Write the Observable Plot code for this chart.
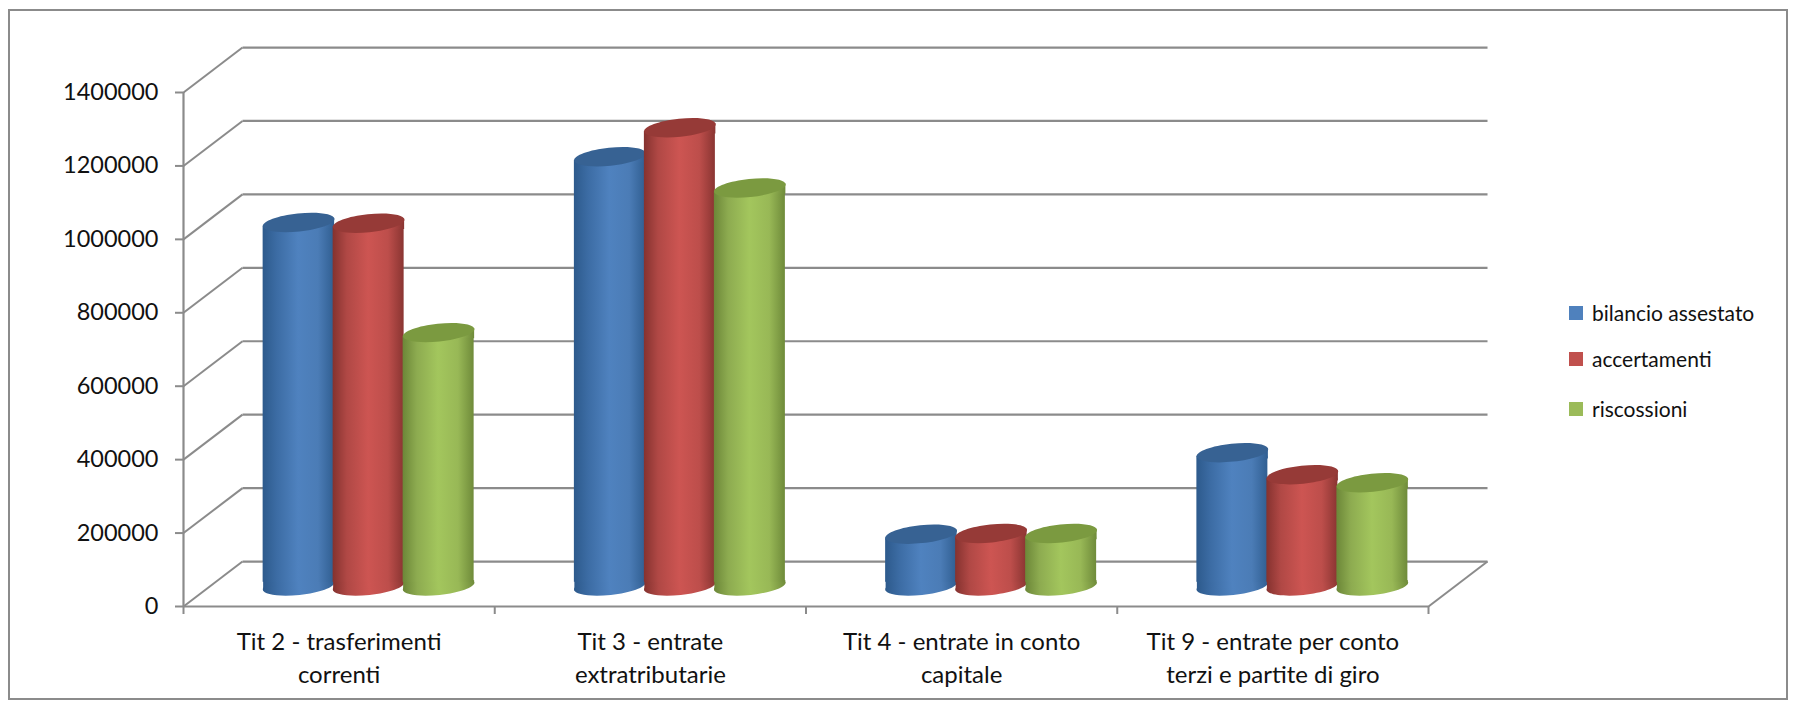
<!DOCTYPE html>
<html>
<head>
<meta charset="utf-8">
<script src="https://cdn.jsdelivr.net/npm/d3@7"></script>
<script src="https://cdn.jsdelivr.net/npm/@observablehq/plot@0.6"></script>
<style>
  html, body { margin: 0; padding: 0; background: #fff; }
  body { width: 1794px; height: 705px; position: relative; overflow: hidden; font-family: Lato, sans-serif; }
  #frame { position: absolute; left: 8px; top: 9px; width: 1776px; height: 687px; border: 2px solid #8b8b8b; box-sizing: content-box; }
  #chart { position: absolute; left: 0; top: 0; }
  #legend { position: absolute; left: 1569px; top: 0; color: #111; font-size: 21px; }
  #legend div { position: absolute; white-space: nowrap; line-height: 30px; padding-left: 23px; }
  #legend i { position: absolute; left: 0; top: 8px; width: 14px; height: 14px; }
</style>
</head>
<body>
<div id="frame"></div>
<div id="chart"></div>
<div id="legend"></div>
<script>
const categories = [
  "Tit 2 - trasferimenti\ncorrenti",
  "Tit 3 - entrate\nextratributarie",
  "Tit 4 - entrate in conto\ncapitale",
  "Tit 9 - entrate per conto\nterzi e partite di giro"
];
const seriesNames = ["bilancio assestato", "accertamenti", "riscossioni"];
const bilancioAssestato = [990000, 1169000, 141000, 363000];
const accertamenti = [988000, 1248000, 143000, 303000];
const riscossioni = [690000, 1084000, 143000, 281000];
const seriesValues = [bilancioAssestato, accertamenti, riscossioni];
const yTicks = [0, 200000, 400000, 600000, 800000, 1000000, 1200000, 1400000];
const xTicks = [0, 1, 2, 3, 4];
const legendTops = [298, 344, 394];

const gradients = [
  ["#2d5a8c", "#3c6ca4", "#4f82bf", "#4b7cb6", "#315f92"],
  ["#85322f", "#b04845", "#cd5552", "#bd4e4b", "#8a3532"],
  ["#6c8738", "#8dab50", "#a3c65d", "#98b856", "#6f8b3a"]
];
const topColors = ["#376293", "#963a37", "#7b9a40"];
const legendColors = ["#4f81bd", "#c0504d", "#9bbb59"];

// 3D projection, in data units
const depthX = 0.1896, depthY = 122500, baseY = 56000, tiltY = 10000;
const barW = 0.2281, barStep = 0.2249;
const tilt = 6 * Math.PI / 180;
const lineColor = "#8b8b8b";

const ellipse = {
  draw(ctx, size) {
    const rx = Math.sqrt(size / Math.PI), ry = rx * 0.25, k = 0.5523;
    ctx.moveTo(-rx, 0);
    ctx.bezierCurveTo(-rx, -ry * k, -rx * k, -ry, 0, -ry);
    ctx.bezierCurveTo(rx * k, -ry, rx, -ry * k, rx, 0);
    ctx.bezierCurveTo(rx, ry * k, rx * k, ry, 0, ry);
    ctx.bezierCurveTo(-rx * k, ry, -rx, ry * k, -rx, 0);
    ctx.closePath();
  }
};
// Small wedges close the gap between the straight body and the tilted caps.
const wedgeTop = {
  draw(ctx, size) {
    const rx = Math.sqrt(size / Math.PI), t = rx * Math.sin(tilt) + 1;
    ctx.moveTo(-rx, t); ctx.lineTo(rx, -t); ctx.lineTo(rx, t + 1); ctx.lineTo(-rx, t + 1); ctx.closePath();
  }
};
const wedgeBottom = {
  draw(ctx, size) {
    const rx = Math.sqrt(size / Math.PI), t = rx * Math.sin(tilt) + 1;
    ctx.moveTo(-rx, -t - 1); ctx.lineTo(rx, -t - 1); ctx.lineTo(rx, -t); ctx.lineTo(-rx, t); ctx.closePath();
  }
};

const defs = () => {
  const d = d3.create("svg:defs");
  gradients.forEach((stops, s) => {
    const g = d.append("linearGradient").attr("id", "cyl" + s)
      .attr("x1", 0).attr("x2", 1).attr("y1", 0).attr("y2", 0);
    [0, 0.2, 0.5, 0.78, 1].forEach((o, i) =>
      g.append("stop").attr("offset", o).attr("stop-color", stops[i]));
  });
  return d.node();
};

const cylinders = seriesValues.flatMap((values, s) => {
  const rows = values.map((v, i) => {
    const cx = i + 0.5 + depthX / 2 + (s - 1) * barStep;
    return {cx, x1: cx - barW / 2, x2: cx + barW / 2, base: baseY, top: v + baseY,
            bodyLow: baseY + tiltY, bodyHigh: v + baseY - tiltY};
  });
  const fill = `url(#cyl${s})`;
  return [
    Plot.dot(rows, {x: "cx", y: "base", r: 36, symbol: ellipse, rotate: -6, fill, stroke: "none"}),
    Plot.dot(rows, {x: "cx", y: "base", r: 35.5, symbol: wedgeBottom, fill, stroke: "none"}),
    Plot.rect(rows, {x1: "x1", x2: "x2", y1: "bodyLow", y2: "bodyHigh", fill}),
    Plot.dot(rows, {x: "cx", y: "top", r: 35.5, symbol: wedgeTop, fill, stroke: "none"}),
    Plot.dot(rows, {x: "cx", y: "top", r: 36, symbol: ellipse, rotate: -6, fill: topColors[s], stroke: "none"})
  ];
});

const plot = Plot.plot({
  width: 1794,
  height: 705,
  marginLeft: 183,
  marginRight: 366,
  marginTop: 92,
  marginBottom: 99,
  x: {domain: [0, 4], axis: null},
  y: {domain: [0, 1400000], axis: null},
  style: {fontFamily: "Lato, sans-serif", background: "transparent", overflow: "visible"},
  marks: [
    defs,
    // back wall
    Plot.link(yTicks, {x1: depthX, x2: 4 + depthX, y1: d => d + depthY, y2: d => d + depthY, stroke: lineColor, strokeWidth: 2.2}),
    // side wall
    Plot.link(yTicks, {x1: 0, x2: depthX, y1: d => d, y2: d => d + depthY, stroke: lineColor, strokeWidth: 2}),
    // floor right edge
    Plot.link([4], {x1: d => d, x2: d => d + depthX, y1: 0, y2: depthY, stroke: lineColor, strokeWidth: 2}),
    // front axes
    Plot.ruleX([0], {stroke: lineColor, strokeWidth: 2.2}),
    Plot.ruleY([0], {stroke: lineColor, strokeWidth: 2.2}),
    Plot.axisY({ticks: yTicks, tickSize: 8, tickPadding: 17, tickFormat: d => String(d), stroke: lineColor, strokeWidth: 2, fill: "#111", fontSize: 23.5, label: null}),
    Plot.axisX({ticks: xTicks, tickSize: 8, tickFormat: () => "", stroke: lineColor, strokeWidth: 2, label: null}),
    Plot.text(categories, {x: (d, i) => i + 0.5, y: 0, text: d => d, dy: 20, lineAnchor: "top", lineHeight: 1.375, fill: "#111", fontSize: 24}),
    ...cylinders
  ]
});
document.getElementById("chart").append(plot);

const legend = document.getElementById("legend");
seriesNames.forEach((name, i) => {
  const row = document.createElement("div");
  row.style.top = legendTops[i] + "px";
  row.innerHTML = `<i style="background:${legendColors[i]}"></i>`;
  row.append(name);
  legend.append(row);
});
</script>
</body>
</html>
